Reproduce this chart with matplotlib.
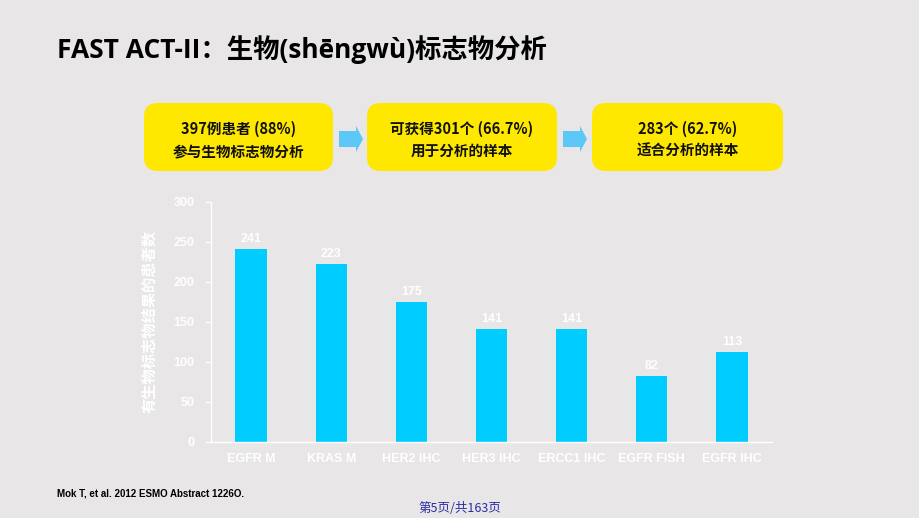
import matplotlib.pyplot as plt
from matplotlib.patches import FancyBboxPatch, FancyArrow

plt.rcParams['font.family'] = ['Noto Sans CJK SC', 'DejaVu Sans']

categories = ['EGFR M', 'KRAS M', 'HER2 IHC', 'HER3 IHC', 'ERCC1 IHC', 'EGFR FISH', 'EGFR IHC']
counts = [241, 223, 175, 141, 141, 82, 113]
y_ticks = [0, 50, 100, 150, 200, 250, 300]
box_texts = ['397例患者 (88%)\n参与生物标志物分析',
             '可获得301个 (66.7%)\n用于分析的样本',
             '283个 (62.7%)\n适合分析的样本']

bg = '#E8E6E7'
W, H = 920, 518
fig = plt.figure(figsize=(9.2, 5.18), dpi=100, facecolor=bg)

# title
fig.text(57 / W, 1 - 50 / H, 'FAST ACT-II：生物(shēngwù)标志物分析',
         fontsize=19, fontweight='bold', color='black', va='center', ha='left',
         family=['Open Sans', 'Noto Sans CJK SC'])

# yellow flow boxes with arrows
boxes = [(144, 333), (367, 557), (592, 783)]
for (x0, x1), txt in zip(boxes, box_texts):
    p = FancyBboxPatch((x0 / W, 1 - 171 / H), (x1 - x0) / W, 68 / H,
                       boxstyle='round,pad=0,rounding_size=0.015',
                       transform=fig.transFigure, facecolor='#FFE800',
                       edgecolor='none', mutation_aspect=W / H)
    fig.add_artist(p)
    fig.text((x0 + x1) / 2 / W, 1 - 140 / H, txt, ha='center', va='center',
             fontsize=10.5, fontweight='bold', linespacing=1.45, color='#111111')

for x0 in (339, 563):
    a = FancyArrow(x0 / W, 1 - 139 / H, 24 / W, 0, width=16 / H,
                   head_width=26 / H, head_length=7 / W,
                   length_includes_head=True, transform=fig.transFigure,
                   facecolor='#5BC8F5', edgecolor='none')
    fig.add_artist(a)

# bar chart
ax = fig.add_axes([211 / W, 1 - 442 / H, 561 / W, 240 / H])
ax.set_facecolor(bg)
x = range(len(categories))
bars = ax.bar(x, counts, width=0.39, color='#00CCFF')
for xi, v in zip(x, counts):
    ax.text(xi, v + 5, str(v), ha='center', va='bottom', color='white',
            fontsize=9, fontweight='bold', family=['Liberation Sans', 'DejaVu Sans'])

ax.set_xlim(-0.5, len(categories) - 0.5)
ax.set_ylim(0, 300)
ax.set_yticks(y_ticks)
ax.set_xticks(list(x))
ax.set_xticklabels(categories)
for lbl in ax.get_xticklabels() + ax.get_yticklabels():
    lbl.set_family(['Liberation Sans', 'DejaVu Sans'])
    lbl.set_fontweight('bold')
    lbl.set_fontsize(9)
    lbl.set_color('white')
ax.tick_params(axis='x', length=0, pad=8)
ax.tick_params(axis='y', length=4, color='white', pad=8)
for s in ('top', 'right'):
    ax.spines[s].set_visible(False)
for s in ('left', 'bottom'):
    ax.spines[s].set_color('white')
    ax.spines[s].set_linewidth(1)
ax.set_ylabel('有生物标志物结果的患者数', color='white', fontsize=11,
              fontweight='bold', labelpad=12)

# footer
fig.text(57 / W, 1 - 494 / H, 'Mok T, et al. 2012 ESMO Abstract 1226O.',
         fontsize=7, fontweight='bold', color='black', va='center',
         family=['Liberation Sans', 'DejaVu Sans'])
fig.text(460 / W, 1 - 508 / H, '第5页/共163页', fontsize=9, color='#2B2BA0',
         ha='center', va='center')

fig.savefig('out.png', dpi=100, facecolor=bg)
